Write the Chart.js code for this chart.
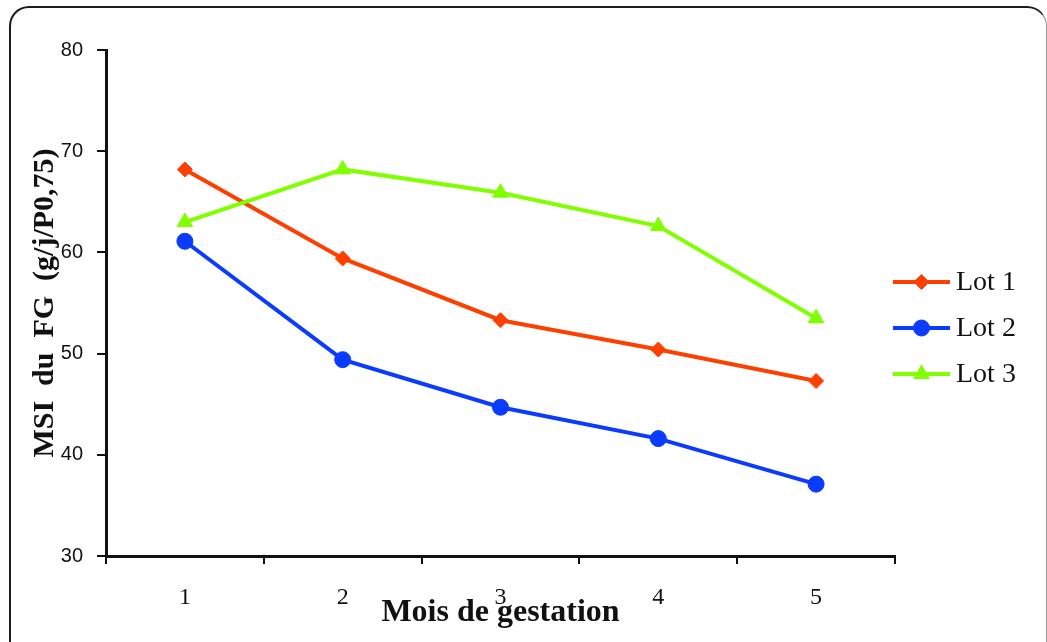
<!DOCTYPE html>
<html lang="fr">
<head>
<meta charset="utf-8">
<title>MSI du FG selon le mois de gestation</title>
<script src="https://cdn.jsdelivr.net/npm/chart.js@4.4.1/dist/chart.umd.min.js"></script>
<style>
  html, body { margin: 0; padding: 0; background: #fff; overflow: hidden; }
  #frame {
    position: absolute; left: 9px; top: 6px; width: 1038px; height: 680px;
    box-sizing: border-box; border: 2px solid #1c1c1c; border-right: 1px solid #9a9a9a;
    border-radius: 20px;
  }
  #chart { position: absolute; left: 0; top: 0; }
</style>
</head>
<body>
<div id="frame"></div>
<canvas id="chart" width="1047" height="642"></canvas>
<script>
// Months of gestation
const months = ['1', '2', '3', '4', '5'];

// Feed intake (g/j/P0,75) per lot
const lot1 = [68.2, 59.4, 53.3, 50.4, 47.3];
const lot2 = [61.1, 49.4, 44.7, 41.6, 37.1];
const lot3 = [63.0, 68.2, 65.9, 62.6, 53.5];

const seriesNames = ['Lot 1', 'Lot 2', 'Lot 3'];

// Value axis ticks
const yTicks = [30, 40, 50, 60, 70, 80];

const colors = ['#ff3f00', '#0a3cff', '#80ff00'];
const markers = ['rectRot', 'circle', 'triangle'];
const markerSizes = [7.5, 8, 9];

const serif = '"Liberation Serif", "Times New Roman", serif';
const sans = '"Liberation Sans", Arial, sans-serif';

// Line-with-marker legend on the right of the plot
const sideLegend = {
  id: 'sideLegend',
  afterDraw(chart) {
    const ctx = chart.ctx;
    const area = chart.chartArea;
    const x0 = area.right - 2;
    const x1 = x0 + 57;
    const midY = (area.top + area.bottom) / 2 + 25;
    const gap = 46;
    ctx.save();
    chart.data.datasets.forEach((ds, i) => {
      const y = midY + (i - 1) * gap;
      ctx.strokeStyle = ds.borderColor;
      ctx.lineWidth = ds.borderWidth;
      ctx.beginPath();
      ctx.moveTo(x0, y);
      ctx.lineTo(x1, y);
      ctx.stroke();
      ctx.fillStyle = ds.pointBackgroundColor;
      ctx.strokeStyle = ds.pointBorderColor;
      ctx.lineWidth = 1;
      Chart.helpers.drawPoint(ctx, { pointStyle: ds.pointStyle, radius: ds.pointRadius, borderWidth: 1, rotation: 0 }, (x0 + x1) / 2, y);
      ctx.fillStyle = '#111';
      ctx.font = '28px ' + serif;
      ctx.textAlign = 'left';
      ctx.textBaseline = 'middle';
      ctx.fillText(ds.label, x1 + 6, y + 1);
    });
    ctx.restore();
  }
};

const seriesData = [lot1, lot2, lot3];

new Chart(document.getElementById('chart'), {
  type: 'line',
  data: {
    labels: months,
    datasets: seriesNames.map((name, i) => ({
      label: name,
      data: seriesData[i],
      borderColor: colors[i],
      backgroundColor: colors[i],
      pointBackgroundColor: colors[i],
      pointBorderColor: colors[i],
      pointStyle: markers[i],
      pointRadius: markerSizes[i],
      pointBorderWidth: 1,
      borderWidth: 4,
      tension: 0,
      fill: false,
      order: 3 - i
    }))
  },
  options: {
    responsive: false,
    devicePixelRatio: 1,
    animation: false,
    events: [],
    layout: { padding: { left: 0, top: 50, right: 152, bottom: 0 } },
    plugins: {
      legend: { display: false },
      tooltip: { enabled: false },
      title: { display: false }
    },
    scales: {
      x: {
        type: 'category',
        offset: true,
        afterFit(scale) { scale.height = 86; },
        grid: {
          offset: true,
          drawOnChartArea: false,
          drawTicks: true,
          tickLength: 8,
          color: '#111',
          lineWidth: 2
        },
        border: { display: true, color: '#111', width: 3 },
        ticks: {
          color: '#111',
          padding: 19,
          font: { family: serif, size: 24 },
          maxRotation: 0
        },
        title: {
          display: true,
          text: 'Mois de gestation',
          color: '#111',
          font: { family: serif, size: 32, weight: 'bold' },
          padding: { top: 0, bottom: 10 }
        }
      },
      y: {
        min: yTicks[0],
        max: yTicks[yTicks.length - 1],
        afterFit(scale) { scale.width = 106; },
        afterBuildTicks(scale) { scale.ticks = yTicks.map(v => ({ value: v })); },
        grid: {
          drawOnChartArea: false,
          drawTicks: true,
          tickLength: 9,
          color: '#111',
          lineWidth: 2
        },
        border: { display: true, color: '#111', width: 3 },
        ticks: {
          color: '#111',
          padding: 14,
          font: { family: sans, size: 20 }
        },
        title: {
          display: true,
          text: 'MSI  du  FG  (g/j/P0,75)',
          color: '#111',
          font: { family: serif, size: 30, weight: 'bold' },
          padding: { top: 27, bottom: 0 }
        }
      }
    }
  },
  plugins: [sideLegend]
});
</script>
</body>
</html>
